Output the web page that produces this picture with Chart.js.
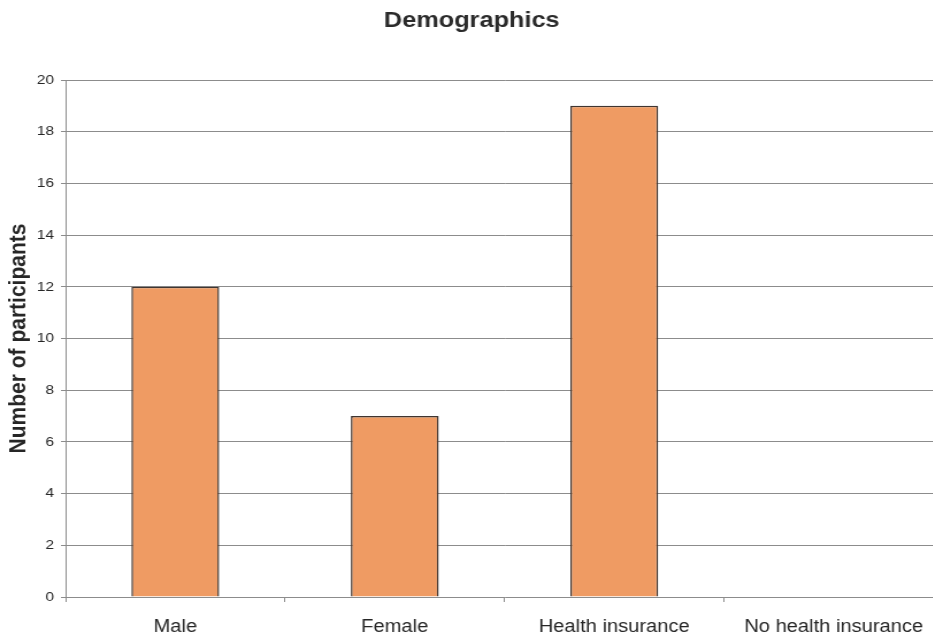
<!DOCTYPE html>
<html>
<head>
<meta charset="utf-8">
<title>Demographics</title>
<script src="https://cdn.jsdelivr.net/npm/chart.js@4.4.1/dist/chart.umd.min.js"></script>
<style>
  html, body { margin: 0; padding: 0; background: #fff; overflow: hidden; }
  body { width: 933px; height: 638px; position: relative; }
  /* the printed chart is a bit wider than tall, so stretch the canvas sideways */
  #wrap { position: absolute; left: 0; top: 0; transform: scaleX(1.15); transform-origin: 0 0; }
  #demoChart { display: block; }
</style>
</head>
<body>
<div id="wrap">
  <canvas id="demoChart" width="840" height="638"></canvas>
</div>
<script>
const categories = ["Male", "Female", "Health insurance", "No health insurance"];
const participants = [12, 7, 19, 0];
const yTicks = [0, 2, 4, 6, 8, 10, 12, 14, 16, 18, 20];

const gridColor = "#8c8c8c";
const fontFamily = "'Liberation Sans', Arial, sans-serif";

const ctx = document.getElementById("demoChart");

new Chart(ctx, {
  type: "bar",
  data: {
    labels: categories,
    datasets: [{
      data: participants,
      backgroundColor: "#ef9b63",
      borderColor: "#3f3530",
      borderWidth: 1.5,
      borderSkipped: "bottom",
      barPercentage: 0.4,
      categoryPercentage: 1
    }]
  },
  options: {
    responsive: false,
    animation: false,
    layout: {
      padding: { left: 0, right: 19.6, top: 0, bottom: 0 }
    },
    plugins: {
      legend: { display: false },
      tooltip: { enabled: false },
      title: {
        display: true,
        text: "Demographics",
        color: "#2b2b2b",
        font: { family: fontFamily, size: 22, weight: "bold" },
        padding: { top: 7.3, bottom: 46.3 }
      }
    },
    scales: {
      x: {
        offset: true,
        afterFit: scale => {
          scale.height = 41;
        },
        grid: {
          offset: true,
          drawOnChartArea: false,
          drawTicks: true,
          tickLength: 5,
          color: gridColor
        },
        border: { display: false },
        ticks: {
          color: "#262626",
          padding: 14.5,
          maxRotation: 0,
          autoSkip: false,
          font: { family: fontFamily, size: 17.5 }
        }
      },
      y: {
        min: 0,
        max: 20,
        afterBuildTicks: scale => {
          scale.ticks = yTicks.map(v => ({ value: v }));
        },
        afterFit: scale => {
          scale.width = 57;
        },
        grid: {
          color: gridColor,
          lineWidth: 1,
          tickLength: 4
        },
        border: { color: gridColor, width: 1 },
        ticks: {
          color: "#262626",
          padding: 6,
          font: { family: fontFamily, size: 13.5 }
        },
        title: {
          display: true,
          text: "Number of participants",
          color: "#262626",
          font: { family: fontFamily, size: 21, weight: "bold" },
          padding: { top: 4, bottom: 0 }
        }
      }
    }
  }
});
</script>
</body>
</html>
